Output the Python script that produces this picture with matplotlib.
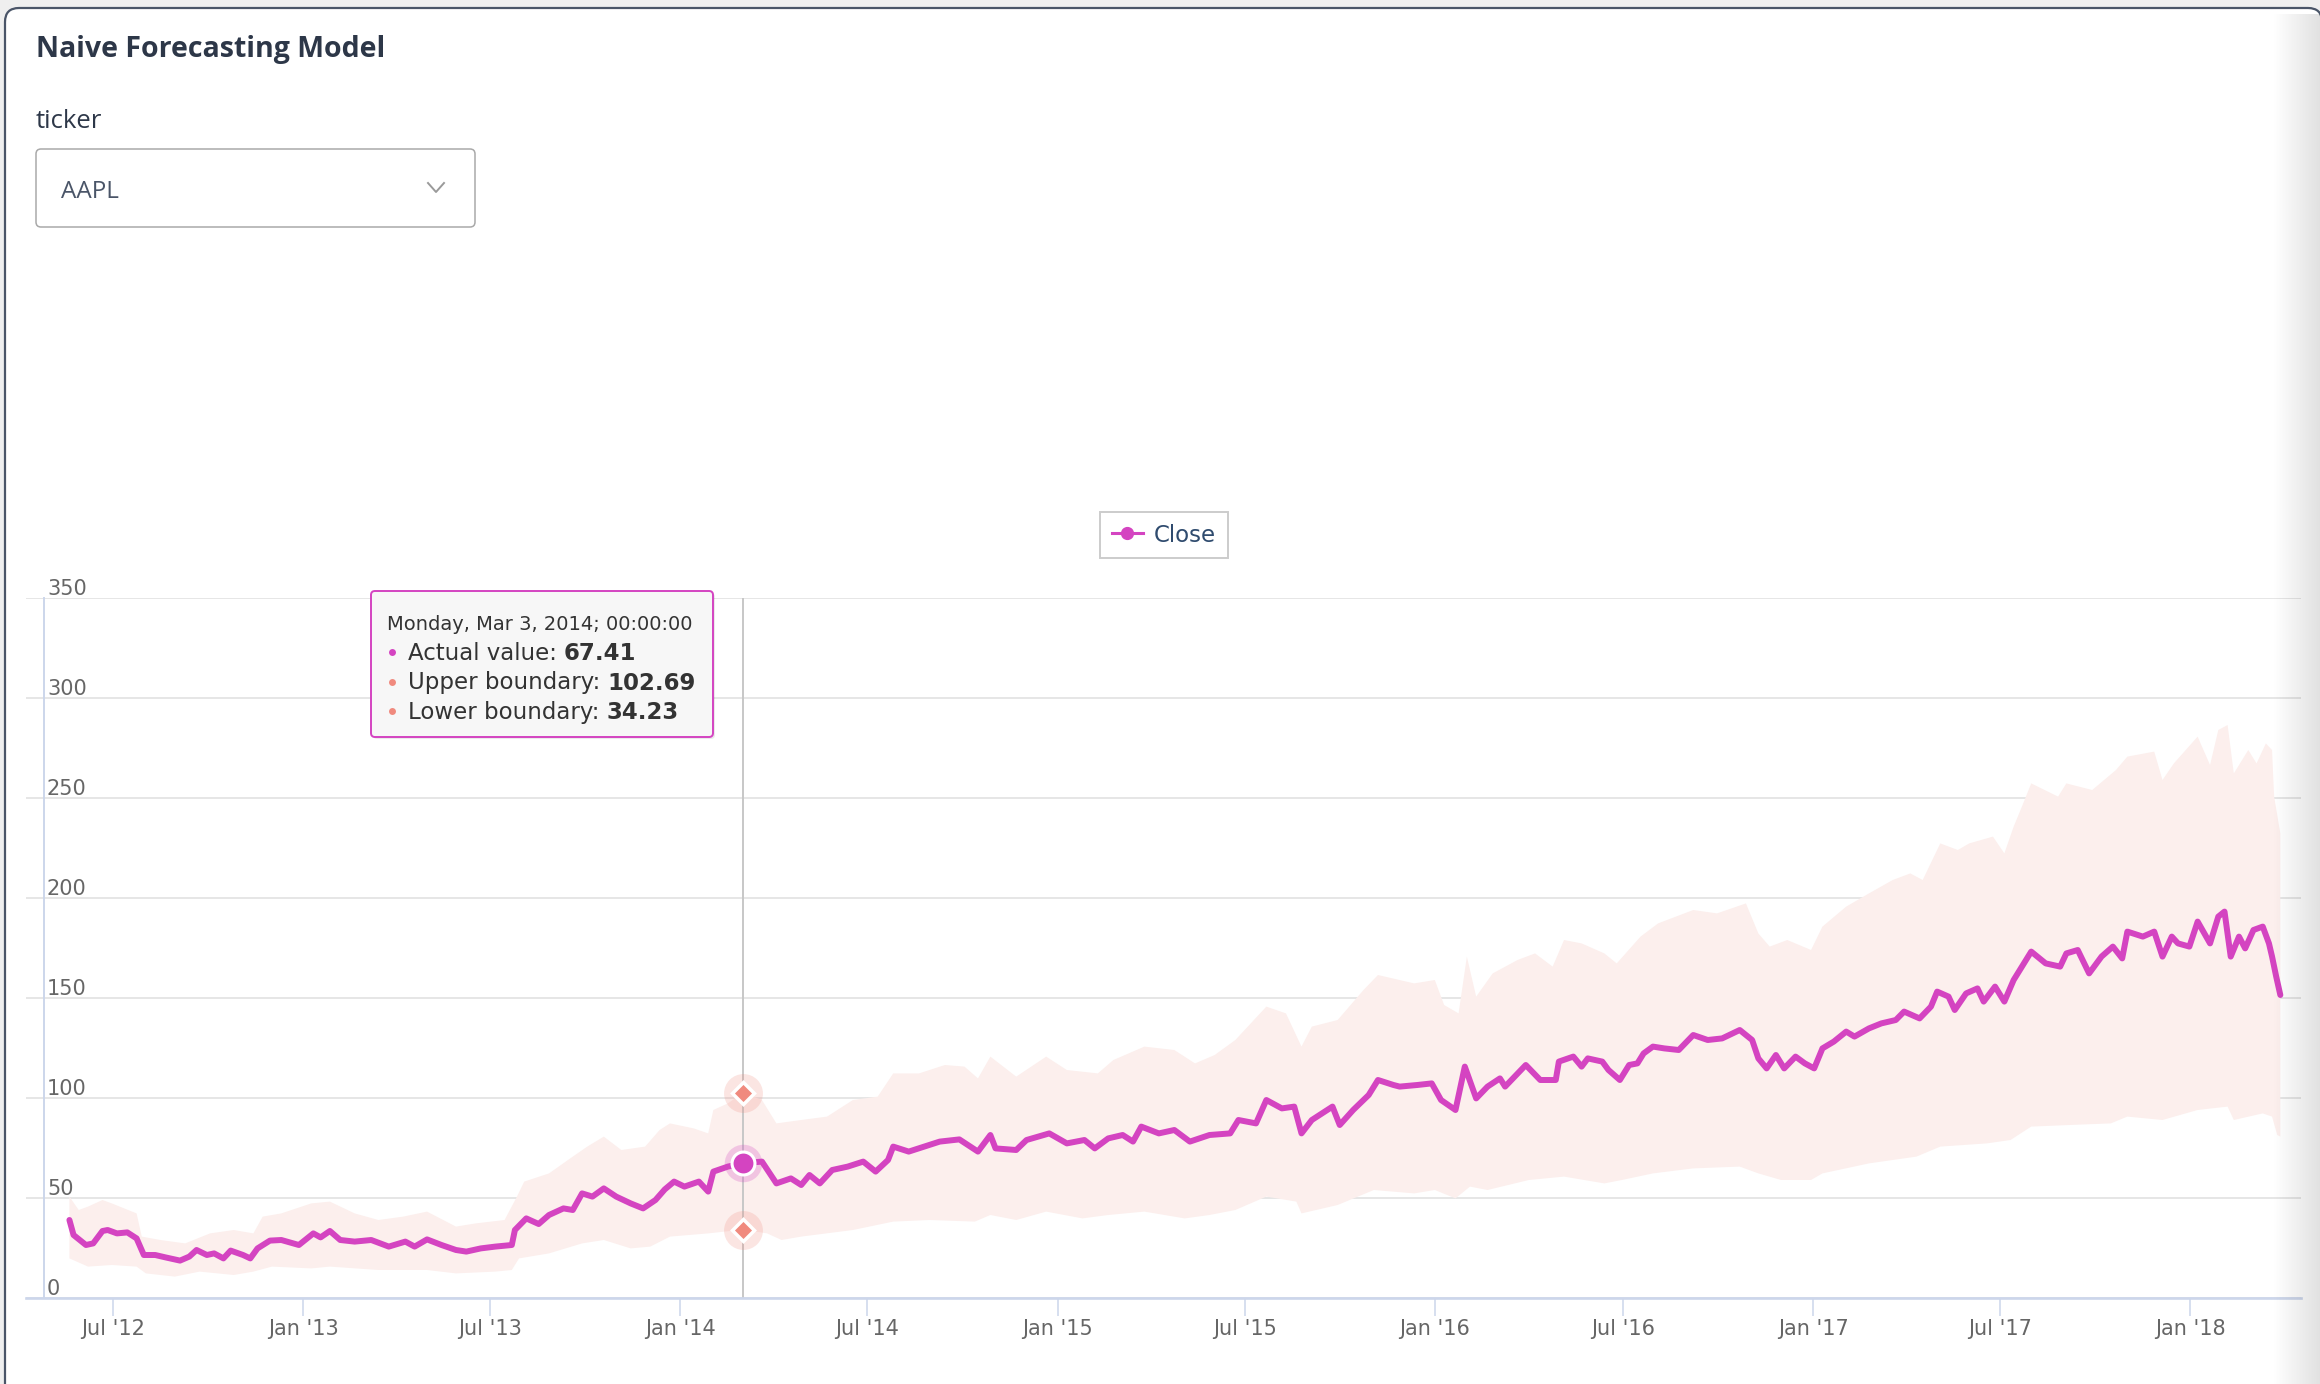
import matplotlib
matplotlib.use("Agg")
import matplotlib.pyplot as plt
import matplotlib.dates as mdates
import matplotlib.transforms as mtransforms
from matplotlib.patches import FancyBboxPatch
from matplotlib.lines import Line2D
import numpy as np
import pandas as pd

# ---- data ----
close_dates = [
    '2012-05-20', '2012-05-24', '2012-06-05', '2012-06-12', '2012-06-21', '2012-06-26', '2012-07-05', '2012-07-15', '2012-07-24', '2012-07-31',
    '2012-08-11', '2012-08-21', '2012-09-04', '2012-09-13', '2012-09-20', '2012-09-30', '2012-10-07', '2012-10-16', '2012-10-23', '2012-11-04',
    '2012-11-11', '2012-11-18', '2012-11-30', '2012-12-11', '2012-12-28', '2013-01-11', '2013-01-18', '2013-01-27', '2013-02-06', '2013-02-20',
    '2013-03-08', '2013-03-25', '2013-04-10', '2013-04-19', '2013-05-01', '2013-05-15', '2013-05-29', '2013-06-08', '2013-06-22', '2013-07-06',
    '2013-07-22', '2013-07-25', '2013-08-05', '2013-08-17', '2013-08-27', '2013-09-10', '2013-09-19', '2013-09-28', '2013-10-08', '2013-10-19',
    '2013-10-31', '2013-11-14', '2013-11-26', '2013-12-08', '2013-12-17', '2013-12-26', '2014-01-05', '2014-01-19', '2014-01-28', '2014-02-02',
    '2014-02-16', '2014-03-03', '2014-03-21', '2014-04-04', '2014-04-18', '2014-04-28', '2014-05-06', '2014-05-16', '2014-05-28', '2014-06-12',
    '2014-06-27', '2014-07-09', '2014-07-21', '2014-07-26', '2014-08-10', '2014-08-25', '2014-09-09', '2014-09-28', '2014-10-16', '2014-10-28',
    '2014-11-02', '2014-11-22', '2014-12-02', '2014-12-24', '2015-01-10', '2015-01-27', '2015-02-06', '2015-02-19', '2015-03-05', '2015-03-15',
    '2015-03-23', '2015-04-09', '2015-04-24', '2015-05-09', '2015-05-28', '2015-06-17', '2015-06-25', '2015-07-12', '2015-07-22', '2015-08-06',
    '2015-08-18', '2015-08-25', '2015-09-04', '2015-09-24', '2015-10-01', '2015-10-14', '2015-10-29', '2015-11-07', '2015-11-22', '2015-11-28',
    '2015-12-15', '2015-12-29', '2016-01-07', '2016-01-21', '2016-01-30', '2016-02-10', '2016-02-21', '2016-03-04', '2016-03-09', '2016-03-29',
    '2016-04-12', '2016-04-27', '2016-04-30', '2016-05-14', '2016-05-22', '2016-05-28', '2016-06-11', '2016-06-17', '2016-06-28', '2016-07-07',
    '2016-07-15', '2016-07-21', '2016-07-30', '2016-08-10', '2016-08-24', '2016-09-07', '2016-09-21', '2016-10-05', '2016-10-22', '2016-11-03',
    '2016-11-09', '2016-11-17', '2016-11-26', '2016-12-04', '2016-12-15', '2016-12-24', '2017-01-02', '2017-01-10', '2017-01-21', '2017-02-02',
    '2017-02-10', '2017-02-24', '2017-03-08', '2017-03-22', '2017-03-30', '2017-04-14', '2017-04-25', '2017-05-01', '2017-05-12', '2017-05-18',
    '2017-05-29', '2017-06-09', '2017-06-15', '2017-06-26', '2017-07-05', '2017-07-14', '2017-07-22', '2017-07-31', '2017-08-14', '2017-08-28',
    '2017-09-03', '2017-09-14', '2017-09-25', '2017-10-07', '2017-10-18', '2017-10-27', '2017-11-01', '2017-11-16', '2017-11-27', '2017-12-05',
    '2017-12-14', '2017-12-20', '2017-12-31', '2018-01-08', '2018-01-20', '2018-01-28', '2018-02-03', '2018-02-09', '2018-02-17', '2018-02-23',
    '2018-03-03', '2018-03-12', '2018-03-18', '2018-03-21', '2018-03-25', '2018-03-29']
close_values = [
    39, 31.5, 26.5, 27.3, 33.5, 34, 32.3, 32.8, 29.8, 21.5,
    21.5, 20.3, 18.7, 20.7, 24, 21.5, 22.3, 19.8, 23.7, 21.5,
    19.8, 24.8, 28.7, 29, 26.5, 32.3, 30.3, 33.5, 29, 28.2,
    29, 25.7, 28.2, 25.7, 29.3, 26.5, 24, 23.2, 24.8, 25.7,
    26.5, 34, 39.8, 37, 41.5, 44.8, 44, 52.3, 50.7, 54.8,
    50.7, 47.3, 44.8, 49, 54.3, 58.2, 55.7, 58.2, 53.2, 63.2,
    65.7, 67.41, 68.2, 57.3, 59.8, 56.5, 61.5, 57.3, 64, 65.7,
    68.2, 63.2, 69, 75.7, 73.2, 75.7, 78.2, 79.3, 73.2, 81.5,
    74.8, 74, 79, 82.3, 77.3, 79, 74.8, 79.8, 81.5, 78.2,
    85.7, 82.3, 84, 78.2, 81.5, 82.3, 89, 87.3, 99, 94.8,
    95.7, 82.3, 89, 95.7, 86.5, 94, 101.5, 109, 106.5, 105.7,
    106.5, 107.3, 99, 94, 115.7, 99.8, 105.7, 109.8, 105.7, 116.5,
    109, 109, 118.2, 120.7, 115.7, 119.8, 118.2, 114, 109, 116.5,
    117.3, 122.3, 125.7, 124.8, 124, 131.5, 129, 129.8, 134, 129,
    119.8, 114.8, 121.5, 114.8, 120.7, 117.3, 114.8, 124.8, 128.2, 133.2,
    130.7, 134.8, 137.3, 139, 143.2, 139.8, 145.7, 153.2, 150.7, 144,
    152.3, 154.8, 148.2, 155.7, 148.2, 159, 165.7, 173.2, 167.3, 165.7,
    172.3, 174, 162.3, 170.7, 175.7, 169.8, 183.2, 180.7, 183.2, 170.7,
    180.7, 177.3, 175.7, 188.2, 177.3, 190.7, 193.2, 170.7, 180.7, 174.8,
    184, 185.7, 177.3, 170.7, 160.7, 151.5]

upper_dates = [
    '2012-05-20', '2012-05-29', '2012-06-07', '2012-06-21', '2012-06-30', '2012-07-24', '2012-07-29', '2012-08-16', '2012-09-09', '2012-10-03',
    '2012-10-26', '2012-11-14', '2012-11-23', '2012-12-11', '2013-01-09', '2013-01-27', '2013-02-20', '2013-03-15', '2013-04-08', '2013-05-01',
    '2013-05-29', '2013-06-17', '2013-07-15', '2013-07-27', '2013-08-03', '2013-08-27', '2013-09-19', '2013-10-03', '2013-10-19', '2013-11-05',
    '2013-11-28', '2013-12-12', '2013-12-22', '2014-01-14', '2014-01-28', '2014-02-02', '2014-02-16', '2014-03-03', '2014-03-21', '2014-04-04',
    '2014-04-28', '2014-05-23', '2014-06-17', '2014-07-11', '2014-07-26', '2014-08-20', '2014-09-14', '2014-10-03', '2014-10-16', '2014-10-28',
    '2014-11-22', '2014-12-21', '2015-01-10', '2015-02-09', '2015-02-24', '2015-03-26', '2015-04-24', '2015-05-14', '2015-06-02', '2015-06-22',
    '2015-07-22', '2015-08-10', '2015-08-25', '2015-09-04', '2015-09-29', '2015-10-24', '2015-11-07', '2015-12-12', '2016-01-01', '2016-01-10',
    '2016-01-24', '2016-02-01', '2016-02-10', '2016-02-26', '2016-03-21', '2016-04-07', '2016-04-24', '2016-05-05', '2016-05-22', '2016-06-13',
    '2016-06-25', '2016-07-18', '2016-08-04', '2016-09-07', '2016-09-30', '2016-10-28', '2016-11-09', '2016-11-20', '2016-12-07', '2016-12-30',
    '2017-01-10', '2017-02-02', '2017-02-24', '2017-03-19', '2017-04-05', '2017-04-17', '2017-05-04', '2017-05-21', '2017-06-01', '2017-06-24',
    '2017-07-05', '2017-07-14', '2017-07-22', '2017-07-31', '2017-08-26', '2017-09-03', '2017-09-28', '2017-10-21', '2017-11-01', '2017-11-27',
    '2017-12-05', '2017-12-16', '2018-01-08', '2018-01-20', '2018-01-28', '2018-02-06', '2018-02-12', '2018-02-26', '2018-03-06', '2018-03-15',
    '2018-03-21', '2018-03-23', '2018-03-29']
upper_values = [
    50.7, 44, 45.7, 49, 47.3, 42.3, 30.7, 29, 27.3, 32.3,
    34, 32.3, 40.7, 42.3, 47.3, 48.2, 42.3, 39, 40.7, 43.2,
    35.7, 37.3, 39, 50.7, 58.2, 62.3, 70.7, 75.7, 80.7, 74,
    75.7, 84, 87.3, 84.8, 82.3, 94, 97.3, 102.69, 99, 87.3,
    89, 90.7, 99, 100.7, 112.3, 112.3, 116.5, 115.7, 109.8, 120.7,
    110.7, 120.7, 114, 112.3, 119, 125.7, 124, 117.3, 121.5, 129,
    145.7, 142.3, 125.7, 135.7, 139, 154, 161.5, 157.3, 159, 146.5,
    142.3, 170.7, 150.7, 162.3, 169, 172.3, 165.7, 179, 177.3, 172.3,
    167.3, 180.7, 187.3, 194, 192.3, 197.3, 182.3, 175.7, 179, 174,
    185.7, 195.7, 202.3, 209, 212.3, 209, 227.3, 224, 227.3, 230.7,
    222.3, 235.7, 245.7, 257.3, 250.7, 257.3, 254, 264, 270.7, 273.2,
    259, 267.3, 280.7, 266.5, 284, 286.5, 262.3, 274, 267.3, 277.3,
    274, 250.7, 232.3]

lower_dates = [
    '2012-05-20', '2012-06-07', '2012-06-30', '2012-07-24', '2012-08-02', '2012-08-30', '2012-09-23', '2012-10-26', '2012-11-14', '2012-12-02',
    '2013-01-09', '2013-01-27', '2013-03-15', '2013-05-01', '2013-05-29', '2013-07-06', '2013-07-22', '2013-07-29', '2013-08-27', '2013-09-28',
    '2013-10-19', '2013-11-14', '2013-12-03', '2013-12-22', '2014-01-28', '2014-03-03', '2014-03-26', '2014-04-09', '2014-04-28', '2014-06-17',
    '2014-07-26', '2014-08-30', '2014-10-13', '2014-10-28', '2014-11-22', '2014-12-21', '2015-01-25', '2015-02-19', '2015-03-26', '2015-05-04',
    '2015-05-28', '2015-06-22', '2015-07-22', '2015-08-20', '2015-08-25', '2015-09-29', '2015-11-03', '2015-12-12', '2016-01-01', '2016-01-21',
    '2016-02-04', '2016-02-21', '2016-04-01', '2016-05-05', '2016-06-13', '2016-06-30', '2016-07-30', '2016-09-07', '2016-10-22', '2016-11-09',
    '2016-12-01', '2016-12-30', '2017-01-10', '2017-02-24', '2017-04-11', '2017-05-04', '2017-06-18', '2017-07-11', '2017-07-31', '2017-09-06',
    '2017-10-16', '2017-11-01', '2017-12-05', '2018-01-08', '2018-02-06', '2018-02-12', '2018-03-12', '2018-03-21', '2018-03-26', '2018-03-29']
lower_values = [
    19.8, 15.7, 16.5, 15.7, 12.3, 10.7, 13.2, 11.5, 13.2, 15.7,
    14.8, 15.7, 14, 14, 12.3, 13.2, 14, 19.8, 22.3, 27.3,
    29, 24.8, 25.7, 30.7, 32.3, 34.23, 32.3, 29, 30.7, 34,
    38.2, 39, 38.2, 41.5, 39, 43.2, 39.8, 41.5, 43.2, 39.8,
    41.5, 44, 50.7, 48.2, 42.3, 46.5, 54, 52.3, 54, 49.8,
    55.7, 54, 59, 60.7, 57.3, 59, 62.3, 64.8, 65.7, 62.3,
    59, 59, 62.3, 67.3, 70.7, 75.7, 77.3, 79, 85.7, 86.5,
    87.3, 90.7, 89, 94, 95.7, 89, 92.3, 90.7, 81.5, 80.7]

hover_date = pd.Timestamp('2014-03-03')
hover_close = 67.41
hover_upper = 102.69
hover_lower = 34.23

y_ticks = [0, 50, 100, 150, 200, 250, 300, 350]
x_start, x_end = pd.Timestamp('2012-04-08'), pd.Timestamp('2018-04-18')

MAGENTA = '#d444c1'
SALMON = '#f08a7e'
BAND = '#fcefed'
AXIS = '#ccd6eb'

W, H = 2320, 1384
fig = plt.figure(figsize=(W / 100, H / 100), dpi=100, facecolor='#efefef')

# ---- page chrome, pixel coordinates ----
bg = fig.add_axes([0, 0, 1, 1], zorder=0)
bg.set_xlim(0, W)
bg.set_ylim(H, 0)
bg.axis('off')
bg.add_patch(FancyBboxPatch((5, 8), 2317, 1420, boxstyle='round,pad=0,rounding_size=14',
                            fc='white', ec='#4a5568', lw=1.6))
bg.text(36, 57, 'Naive Forecasting Model', family='Open Sans', fontweight='bold',
        fontsize=20.5, color='#2d3748', va='baseline')
bg.text(36, 128, 'ticker', family='Open Sans', fontsize=18.5, color='#2d3748', va='baseline')
bg.add_patch(FancyBboxPatch((36, 149), 439, 78, boxstyle='round,pad=0,rounding_size=5',
                            fc='white', ec='#a9a9a9', lw=1.1))
bg.text(61, 198, 'AAPL', family='Open Sans', fontsize=17.5, color='#4a5568', va='baseline')
bg.plot([428, 436, 444], [183, 192, 183], color='#9a9a9a', lw=1.4)

# ---- chart ----
ax = fig.add_axes([26 / W, 1 - 1298 / H, 2275 / W, 700 / H], zorder=1)
ax.set_facecolor('none')

cd = pd.to_datetime(close_dates)
ud = pd.to_datetime(upper_dates)
ld = pd.to_datetime(lower_dates)

band_x = np.concatenate([ud.values, ld.values[::-1]])
band_y = np.concatenate([upper_values, lower_values[::-1]])
ax.fill(band_x, band_y, color=BAND, lw=0, zorder=1)

ax.axvline(hover_date, color='#c7c7c7', lw=1.4, zorder=2)
ax.plot(cd, close_values, color=MAGENTA, lw=4.3, solid_joinstyle='round',
        solid_capstyle='round', zorder=3)

# hover state
ax.plot([hover_date], [hover_close], 'o', ms=27, color=MAGENTA, alpha=0.25, mew=0, zorder=4)
ax.plot([hover_date], [hover_close], 'o', ms=16.5, mfc=MAGENTA, mec='white', mew=2.2, zorder=5)
for v in (hover_upper, hover_lower):
    ax.plot([hover_date], [v], 'o', ms=28, color=SALMON, alpha=0.22, mew=0, zorder=4)
    ax.plot([hover_date], [v], 'D', ms=11, mfc=SALMON, mec='white', mew=2.5, zorder=5)

ax.set_xlim(x_start, x_end)
ax.set_ylim(0, 350)
ax.set_yticks(y_ticks)
ax.yaxis.grid(True, color='#e6e6e6', lw=1.4)
ax.set_axisbelow(True)
ax.tick_params(axis='y', length=0, labelleft=False)

ax.xaxis.set_major_locator(mdates.MonthLocator(bymonth=(1, 7)))
ax.xaxis.set_major_formatter(mdates.DateFormatter("%b '%y"))
ax.tick_params(axis='x', length=13, width=1.1, color=AXIS, labelsize=15,
               labelcolor='#666666', pad=2)

for s in ('top', 'right'):
    ax.spines[s].set_visible(False)
ax.spines['bottom'].set_color(AXIS)
ax.spines['bottom'].set_linewidth(1.9)
ax.spines['left'].set_position(('axes', 18 / 2275))
ax.spines['left'].set_color(AXIS)
ax.spines['left'].set_linewidth(1.4)

ylab_tr = mtransforms.offset_copy(ax.get_yaxis_transform(), fig=fig, x=0, y=3, units='dots')
for v in y_ticks:
    ax.text(21 / 2275, v, str(v), transform=ylab_tr, fontsize=15, color='#666666',
            ha='left', va='baseline')

# legend
leg = fig.legend(handles=[Line2D([], [], color=MAGENTA, lw=2.2, marker='o', ms=8.5)],
                 labels=['Close'], loc='center', bbox_to_anchor=(1164 / W, 1 - 535 / H),
                 frameon=True, fancybox=False, framealpha=1, edgecolor='#cccccc',
                 fontsize=16.5, labelcolor='#2f4b6e', handlelength=1.35,
                 handletextpad=0.5, borderpad=0.5)
leg.get_frame().set_linewidth(1.4)

# ---- tooltip and overlays, pixel coordinates ----
fg = fig.add_axes([0, 0, 1, 1], zorder=3)
fg.axis('off')
fg.set_xlim(0, W)
fg.set_ylim(H, 0)
fg.add_patch(FancyBboxPatch((373, 593), 342, 146, boxstyle='round,pad=0,rounding_size=4',
                            fc='black', alpha=0.08, lw=0))
fg.add_patch(FancyBboxPatch((371, 591), 342, 146, boxstyle='round,pad=0,rounding_size=4',
                            fc='#f7f7f7', ec=MAGENTA, lw=1.4))
header = f"{hover_date:%A, %b} {hover_date.day}, {hover_date:%Y; %H:%M:%S}"
fg.text(387, 630, header, fontsize=14, color='#333333', va='baseline')

renderer = fig.canvas.get_renderer()
rows = [('Actual value', hover_close, MAGENTA),
        ('Upper boundary', hover_upper, SALMON),
        ('Lower boundary', hover_lower, SALMON)]
for i, (name, val, col) in enumerate(rows):
    yb = 660 + i * 29.5
    fg.plot(392, yb - 8, 'o', ms=5, color=col, mew=0)
    t = fg.text(408, yb, name + ':', fontsize=16.5, color='#333333', va='baseline')
    bb = t.get_window_extent(renderer=renderer)
    x_end_txt = fg.transData.inverted().transform((bb.x1, bb.y0))[0]
    fg.text(x_end_txt + 7, yb, f'{val:.2f}', fontsize=16.5, fontweight='bold',
            color='#333333', va='baseline')

grad = np.zeros((1, 48, 4))
grad[0, :, 3] = np.linspace(0.0, 0.12, 48)
fg.imshow(grad, extent=(2272, 2320, H, 14), aspect='auto', interpolation='bilinear', zorder=6)
fg.set_xlim(0, W)
fg.set_ylim(H, 0)

fig.savefig('out.png', dpi=100, facecolor=fig.get_facecolor())
